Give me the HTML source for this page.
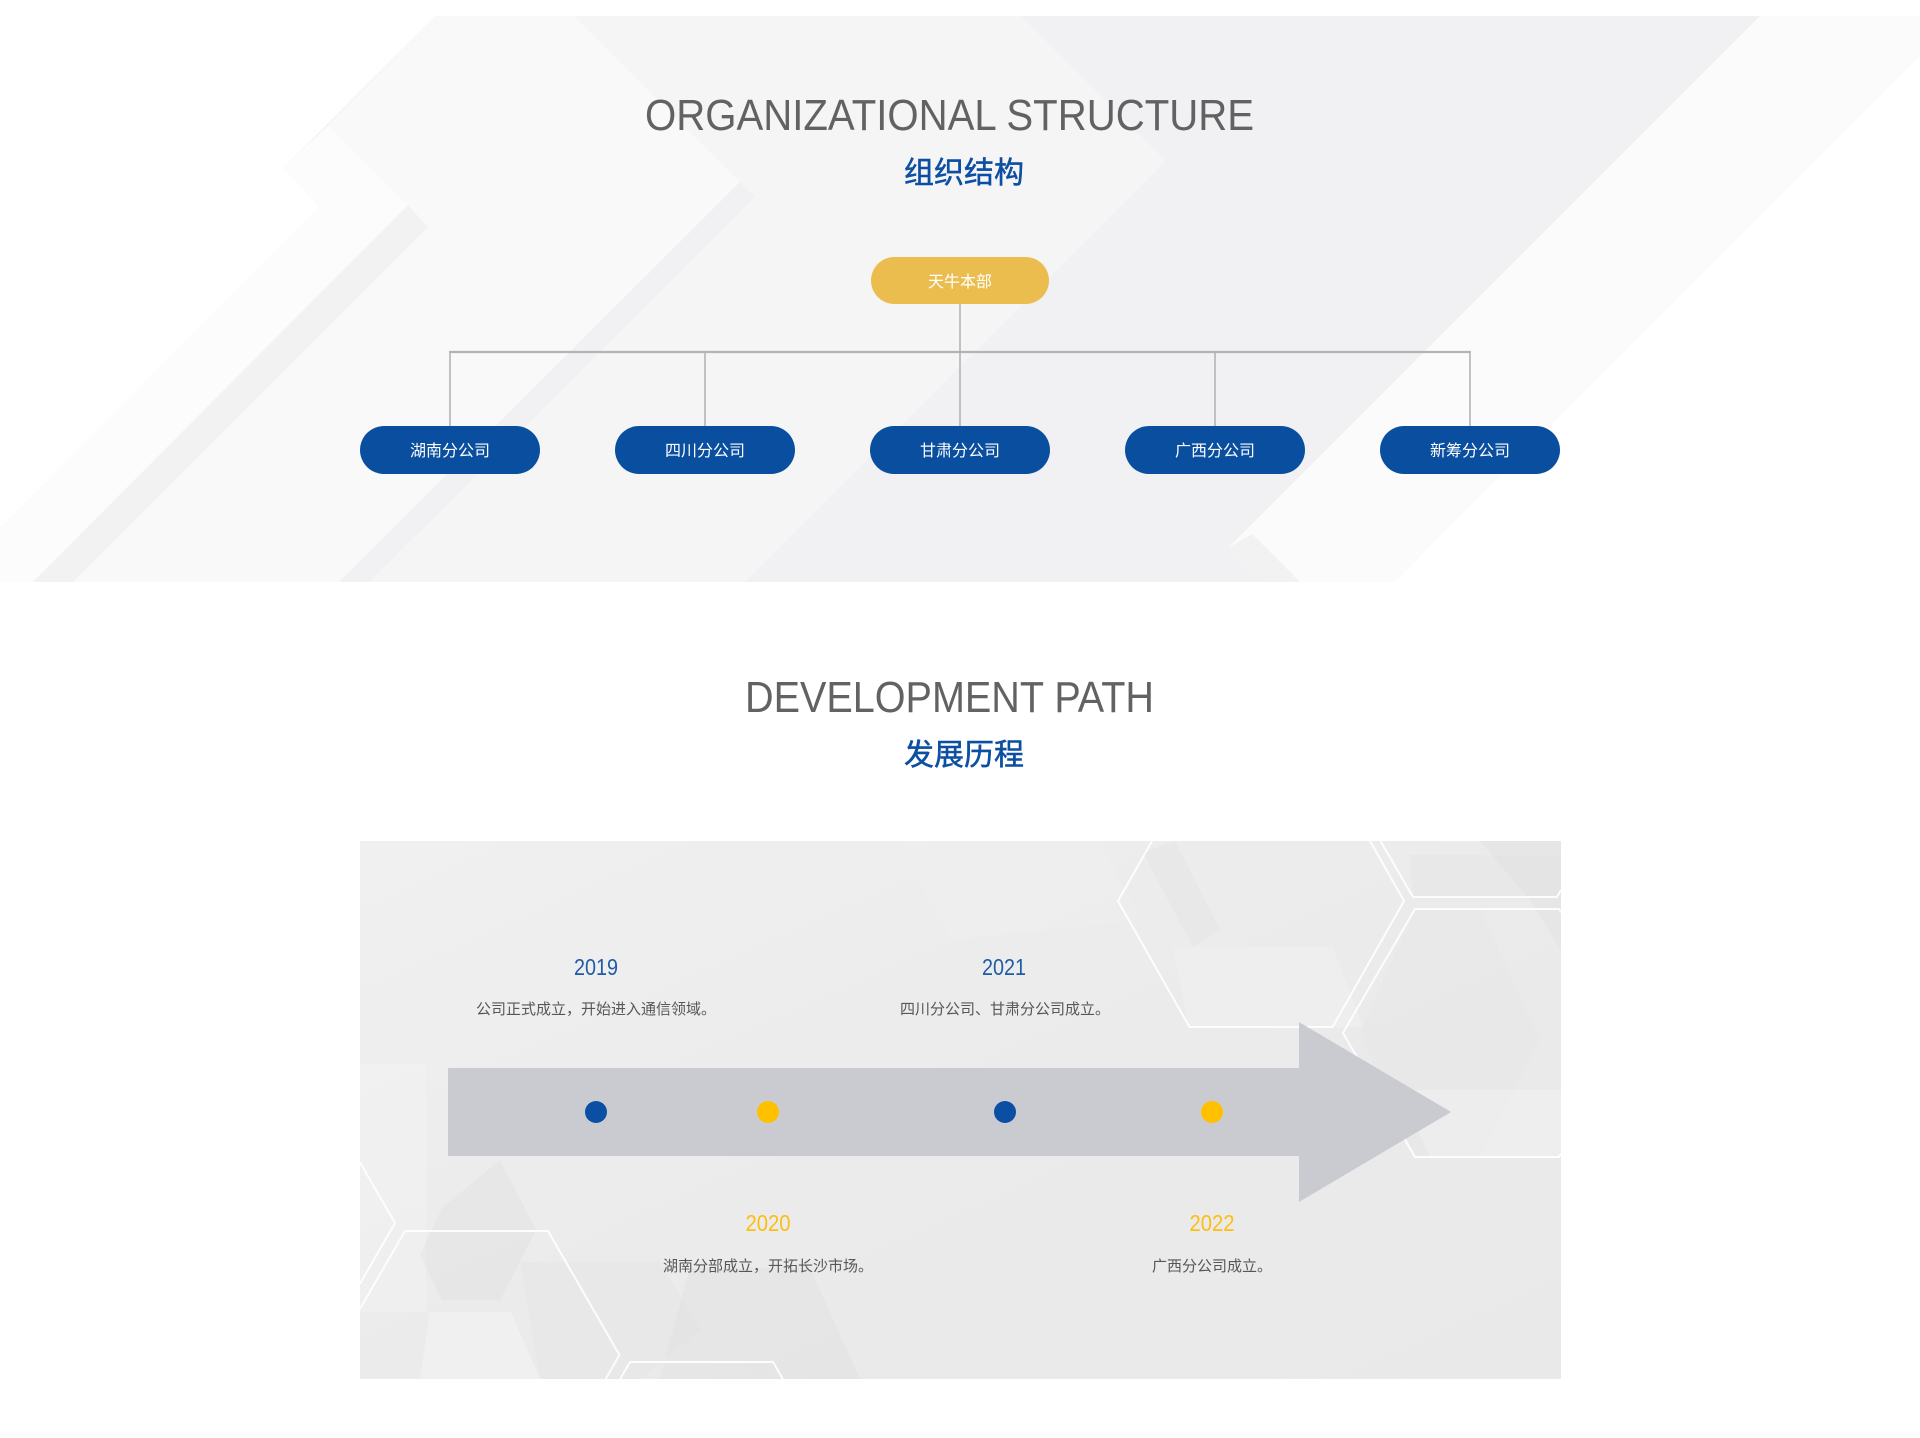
<!DOCTYPE html>
<html><head><meta charset="utf-8">
<style>
html,body{margin:0;padding:0;background:#fff;width:1920px;height:1438px;overflow:hidden}
svg{display:block}
.lat{font-family:"Liberation Sans",sans-serif}
.cjk{font-family:"Liberation Sans","Noto Sans CJK SC",sans-serif}
</style></head><body>
<svg width="1920" height="1438" viewBox="0 0 1920 1438" xmlns="http://www.w3.org/2000/svg">
<defs>
  <linearGradient id="bx" x1="0" y1="0" x2="1" y2="1">
    <stop offset="0" stop-color="#f0f0f0"/>
    <stop offset="0.5" stop-color="#ebebeb"/>
    <stop offset="1" stop-color="#e9e9e9"/>
  </linearGradient>
  <clipPath id="boxclip"><rect x="360" y="841" width="1201" height="538"/></clipPath>
  <clipPath id="banclip"><polygon points="435,16 1870,16 1338,548 1372,582 0,582 0,528 319,207 283,168"/></clipPath>
</defs>

<!-- ===== Top banner background ===== -->
<polygon points="1870,16 1920,16 1920,56 1395,582 1305,582" fill="#fbfbfb"/>
<polygon points="435,16 1870,16 1338,548 1372,582 0,582 0,528 319,207 283,168" fill="#f5f5f6"/>
<g clip-path="url(#banclip)">
  <polygon points="1046,16 1870,16 1338,548 1372,582 816,582 1214,184" fill="#efeff1" opacity="0.6"/>
  <polygon points="1021,16 1046,16 1214,184 816,582 745,582 1166,161" fill="#ededef" opacity="0.45"/>
  <polygon points="435,16 574,16 740,182 339,582 33,582 408,205 328,126" fill="#fafafa" opacity="0.8"/>
  <polygon points="283,168 328,126 408,205 33,582 0,582 0,528 319,207" fill="#fcfcfc"/>
  <polygon points="408,205 33,582 73,582 428,227" fill="#ebebed" opacity="0.5"/>
  <polygon points="740,182 339,582 369,582 755,197" fill="#ededef" opacity="0.45"/>
  <polygon points="1760,16 1870,16 1338,548 1372,582 1262,582 1228,548" fill="#fbfbfb"/>
  <polygon points="1228,548 1262,582 1300,582 1252,534" fill="#ececee" opacity="0.6"/>
</g>

<!-- ===== ORG title ===== -->
<text x="645" y="130" font-size="44" fill="#626262" class="lat" textLength="609" lengthAdjust="spacingAndGlyphs">ORGANIZATIONAL STRUCTURE</text>
<text x="964" y="183" font-size="30" fill="#0d4fa1" stroke="#0d4fa1" stroke-width="0.5" text-anchor="middle" class="cjk">组织结构</text>

<!-- ===== Org connectors ===== -->
<g stroke="#b4b4b4" fill="none">
  <line x1="960" y1="304" x2="960" y2="352" stroke-width="1.6"/>
  <line x1="449" y1="352" x2="1471" y2="352" stroke-width="2.2"/>
  <line x1="450" y1="352" x2="450" y2="427" stroke-width="1.6"/>
  <line x1="705" y1="352" x2="705" y2="427" stroke-width="1.6"/>
  <line x1="960" y1="352" x2="960" y2="427" stroke-width="1.6"/>
  <line x1="1215" y1="352" x2="1215" y2="427" stroke-width="1.6"/>
  <line x1="1470" y1="352" x2="1470" y2="427" stroke-width="1.6"/>
</g>

<!-- ===== Pills ===== -->
<rect x="871" y="257" width="178" height="47" rx="23.5" fill="#ebbd4f"/>
<text x="960" y="287" font-size="16" fill="#ffffff" text-anchor="middle" class="cjk">天牛本部</text>

<g fill="#0a4f9f">
  <rect x="360" y="426" width="180" height="48" rx="24"/>
  <rect x="615" y="426" width="180" height="48" rx="24"/>
  <rect x="870" y="426" width="180" height="48" rx="24"/>
  <rect x="1125" y="426" width="180" height="48" rx="24"/>
  <rect x="1380" y="426" width="180" height="48" rx="24"/>
</g>
<g font-size="16" fill="#ffffff" text-anchor="middle" class="cjk">
  <text x="450" y="456">湖南分公司</text>
  <text x="705" y="456">四川分公司</text>
  <text x="960" y="456">甘肃分公司</text>
  <text x="1215" y="456">广西分公司</text>
  <text x="1470" y="456">新筹分公司</text>
</g>

<!-- ===== DEV title ===== -->
<text x="745" y="712" font-size="44" fill="#626262" class="lat" textLength="409" lengthAdjust="spacingAndGlyphs">DEVELOPMENT PATH</text>
<text x="964" y="765" font-size="30" fill="#0d4fa1" stroke="#0d4fa1" stroke-width="0.5" text-anchor="middle" class="cjk">发展历程</text>

<!-- ===== Timeline box ===== -->
<rect x="360" y="841" width="1201" height="538" fill="url(#bx)"/>
<g clip-path="url(#boxclip)">
  <polygon points="360,1064 426,1064 426,1312 360,1312" fill="#f4f4f4" opacity="0.45"/>
  <polygon points="442,1208 500,1160 536,1230 500,1300 442,1300 420,1255" fill="#d9d9d9" opacity="0.25"/>
  <polygon points="430,1312 511,1312 540,1379 420,1379" fill="#f3f3f3" opacity="0.6"/>
  <polygon points="690,1268 810,1268 860,1379 660,1379" fill="#dedede" opacity="0.35"/>
  <polygon points="520,1262 660,1262 700,1330 640,1379 540,1379" fill="#e2e2e2" opacity="0.3"/>
  <polygon points="1143,853 1175,841 1220,930 1193,947" fill="#dcdcdc" opacity="0.25"/>
  <polygon points="1173,947 1333,947 1363,1027 1189,1027" fill="#f0f0f0" opacity="0.6"/>
  <polygon points="1415,909 1480,909 1540,1040 1480,1157 1415,1157 1360,1033" fill="#e2e2e2" opacity="0.25"/>
  <polygon points="1410,855 1561,855 1561,897 1413,897" fill="#e3e3e3" opacity="0.4"/>
  <polygon points="1480,841 1561,841 1561,950 1530,900" fill="#dedede" opacity="0.4"/>
  <polygon points="1400,1090 1561,1090 1561,1157 1430,1157" fill="#f2f2f2" opacity="0.5"/>
  <polygon points="900,841 1100,841 1140,920 950,940" fill="#f2f2f2" opacity="0.35"/>
</g>
<!-- hexagon outlines (pre-clipped to the box) -->
<g fill="none" stroke="#ffffff" stroke-width="2" opacity="0.9" stroke-linejoin="round">
  <polyline points="1152,841 1118,901 1189.5,1027 1332.5,1027 1404,901 1370,841"/>
  <polyline points="1561,912.4 1559,909 1415,909 1343,1033 1415,1157 1559,1157 1561,1153.6"/>
  <polyline points="1380.5,841 1413,897 1557,897 1561,890"/>
  <polyline points="360,1309 405,1231 548,1231 619.5,1355 605.7,1379"/>
  <polyline points="360,1162.3 395,1223 360,1283.7"/>
  <polyline points="620.2,1379 630,1362 773,1362 782.8,1379"/>
</g>

<!-- Arrow -->
<polygon points="448,1068 1299,1068 1299,1022 1451,1112 1299,1202 1299,1156 448,1156" fill="#cacbd0"/>

<!-- Dots -->
<circle cx="596" cy="1112" r="11" fill="#0a4fa3"/>
<circle cx="768" cy="1112" r="11" fill="#ffc000"/>
<circle cx="1005" cy="1112" r="11" fill="#0a4fa3"/>
<circle cx="1212" cy="1112" r="11" fill="#ffc000"/>

<!-- Years -->
<g font-size="23" text-anchor="middle" class="lat">
  <text x="596" y="975" fill="#1f5ba7" textLength="44" lengthAdjust="spacingAndGlyphs">2019</text>
  <text x="1004" y="975" fill="#1f5ba7" textLength="44" lengthAdjust="spacingAndGlyphs">2021</text>
  <text x="768" y="1231" fill="#fdbe12" textLength="45" lengthAdjust="spacingAndGlyphs">2020</text>
  <text x="1212" y="1231" fill="#fdbe12" textLength="45" lengthAdjust="spacingAndGlyphs">2022</text>
</g>

<!-- Descriptions -->
<g font-size="15" fill="#575757" text-anchor="middle" class="cjk">
  <text x="596" y="1014">公司正式成立，开始进入通信领域。</text>
  <text x="1005" y="1014">四川分公司、甘肃分公司成立。</text>
  <text x="768" y="1271">湖南分部成立，开拓长沙市场。</text>
  <text x="1212" y="1271">广西分公司成立。</text>
</g>
</svg>
</body></html>
